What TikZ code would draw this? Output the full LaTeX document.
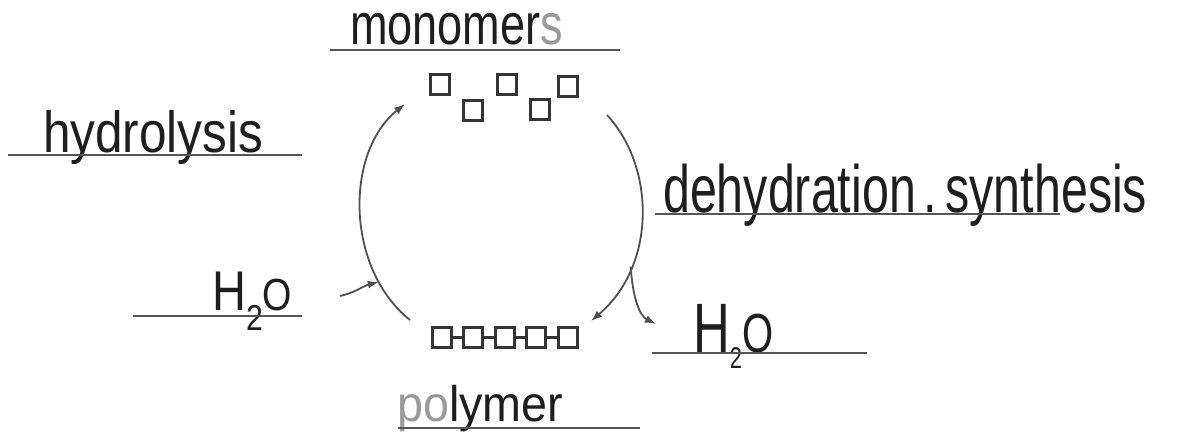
\documentclass[tikz,border=0pt]{standalone}
\usepackage{fontspec}
\setmainfont{Liberation Sans}
\usepackage{graphicx}
\usetikzlibrary{arrows.meta}
\definecolor{ink}{HTML}{1E1E1E}
\definecolor{pen}{HTML}{9A9A9A}
\definecolor{rule}{HTML}{555555}
\definecolor{arc}{HTML}{505050}
\newcommand{\hw}[2]{\resizebox{#1pt}{\height}{#2}}
\tikzset{
  lbl/.style={anchor=base west, inner sep=0pt, text=ink},
  uline/.style={draw=rule, line width=2.2pt},
  sq/.style={draw=ink!90, line width=3pt, minimum width=19pt, minimum height=20pt, inner sep=0pt},
  link/.style={draw=ink!90, line width=3pt},
  arr/.style={draw=arc, line width=1.8pt, -{Latex[length=11pt,width=8pt]}},
}
\begin{document}
\begin{tikzpicture}[x=1pt,y=1pt]
\useasboundingbox (0,0) rectangle (1179,-446);
\fill[white] (0,0) rectangle (1179,-446);

% labels
\node[lbl, font=\fontsize{58}{58}\selectfont] (mono) at (350,-45) {\hw{213}{monomer\textcolor{pen}{s}}};
\draw[uline] (330,-50) -- (620,-50);

\node[lbl, font=\fontsize{58}{58}\selectfont] (hydro) at (43,-153) {\hw{220}{hydrolysis}};
\draw[uline] (8,-155) -- (302,-155);

\node[lbl, font=\fontsize{67}{67}\selectfont] (dehy) at (663,-213) {\hw{484}{dehydration\,.\,synthesis}};
\draw[uline] (655,-214) -- (1060,-214);

\node[lbl, font=\fontsize{56}{56}\selectfont] (h2oL) at (212,-311) {\hw{80}{H\raisebox{-20pt}{\fontsize{36}{36}\selectfont 2}{\fontsize{45}{45}\selectfont O}}};
\draw[uline] (133,-316) -- (302,-316);

\node[lbl, font=\fontsize{70}{70}\selectfont] (h2oR) at (693,-353) {\hw{80}{H\raisebox{-15pt}{\fontsize{30}{30}\selectfont 2}{\fontsize{55}{55}\selectfont O}}};
\draw[uline] (652,-353) -- (867,-353);

\node[lbl, font=\fontsize{50}{50}\selectfont] (poly) at (397,-422) {\hw{166}{\textcolor{pen}{po}lymer}};
\draw[uline] (398,-428) -- (640,-428);

% monomer squares
\node[sq] (m1) at (440,-85) {};
\node[sq] (m2) at (473,-111) {};
\node[sq] (m3) at (507,-85) {};
\node[sq] (m4) at (540,-110) {};
\node[sq] (m5) at (568,-87) {};

% polymer chain
\node[sq] (p1) at (442,-338) {};
\node[sq] (p2) at (473,-338) {};
\node[sq] (p3) at (505,-338) {};
\node[sq] (p4) at (536,-338) {};
\node[sq] (p5) at (568,-338) {};
\draw[link] (p1) -- (p2);
\draw[link] (p2) -- (p3);
\draw[link] (p3) -- (p4);
\draw[link] (p4) -- (p5);

% cycle arrows
\coordinate (lb) at (410,-320);
\coordinate (lt) at (405,-104);
\coordinate (rt) at (607,-115);
\coordinate (rb) at (591,-321);
\coordinate (wl) at (340,-296);
\coordinate (wr) at (656,-324);

\draw[arr] (lb) .. controls (345,-268) and (345,-152) .. (lt) coordinate[pos=0.2] (lj);
\draw[arr] (rt) .. controls (656,-168) and (656,-266) .. (rb) coordinate[pos=0.72] (rj);
\draw[arr] (wl) .. controls (354,-293) and (366,-285) .. (lj);
\draw[arr] (rj) .. controls (633,-300) and (640,-316) .. (wr);
\end{tikzpicture}
\end{document}
